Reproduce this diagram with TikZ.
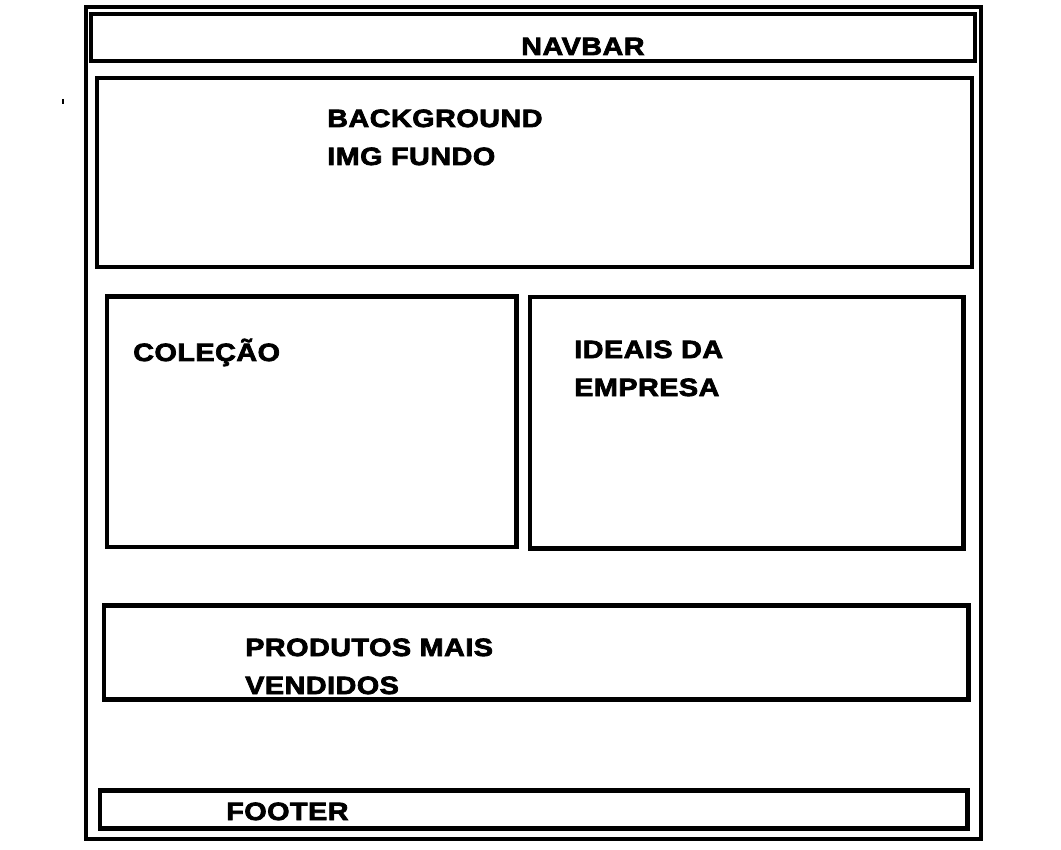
\documentclass[tikz,border=0pt]{standalone}
\usepackage{fontspec}
\newfontfamily\rotulofont{Liberation Sans}[FakeStretch=1.15, LetterSpace=2, BoldFeatures={FakeBold=3}]
\usepackage{tikz}

\begin{document}
\begin{tikzpicture}[x=1pt, y=-1pt, line width=4.5pt,
    rotulo/.style={anchor=base west, inner sep=0pt, align=left,
      font=\rotulofont\bfseries\fontsize{25}{38}\selectfont}]
    \useasboundingbox (0,0) rectangle (1061,850);

    % Page frame
    \draw (86,7) rectangle (981,839);
    \draw[line width=1.5pt] (63,99) -- (63,104);

    % Navbar
    \draw (91,14) rectangle (975,61);
    \node[rotulo] (navbar) at (519,55) {NAVBAR};

    % Background (base = last line)
    \draw (97,78) rectangle (972,267);
    \node[rotulo] (fundo) at (325,165) {BACKGROUND\\IMG FUNDO};

    % Middle row
    \draw (107,296.5) rectangle (516.5,547);
    \draw (530,297) rectangle (963.5,548.5);
    \node[rotulo] (colecao) at (131,361) {COLEÇÃO};
    \node[rotulo] (ideais) at (572,396) {IDEAIS DA\\EMPRESA};

    % Produtos
    \draw (104,605.5) rectangle (968.5,699.5);
    \node[rotulo] (produtos) at (243,694) {PRODUTOS MAIS\\VENDIDOS};

    % Footer
    \draw (100,790.5) rectangle (967.5,828.5);
    \node[rotulo] (footer) at (224,820) {FOOTER};
\end{tikzpicture}
\end{document}
